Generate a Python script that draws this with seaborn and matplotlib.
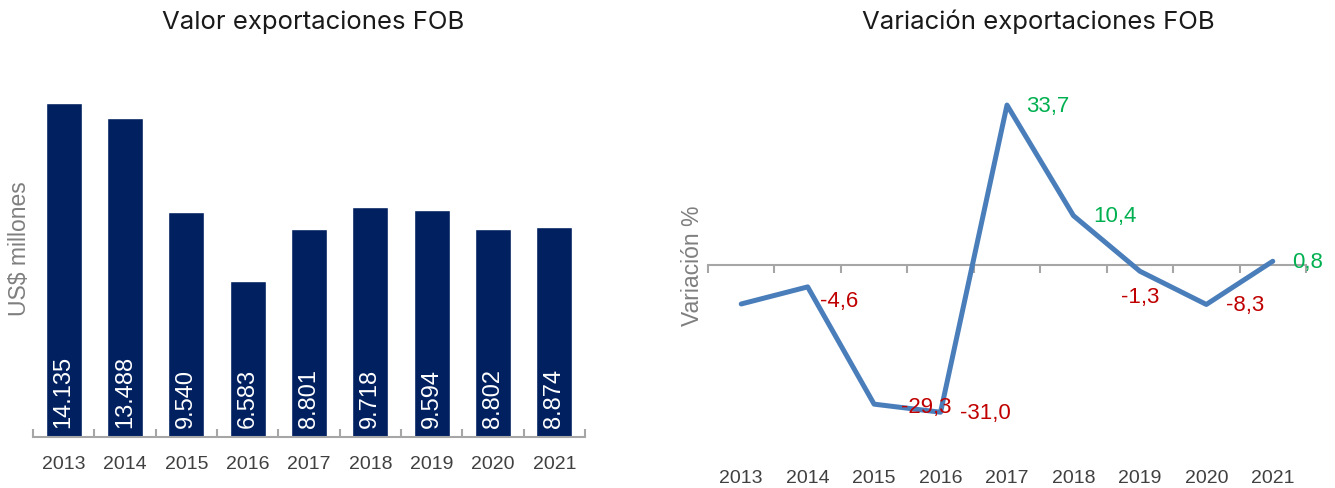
import numpy as np
import matplotlib.pyplot as plt
import seaborn as sns
import pandas as pd

# data
years = ['2013', '2014', '2015', '2016', '2017', '2018', '2019', '2020', '2021']
export_value = [14135, 13488, 9540, 6583, 8801, 9718, 9594, 8802, 8874]
export_change = [-8.2, -4.6, -29.3, -31.0, 33.7, 10.4, -1.3, -8.3, 0.8]
change_labels = [None, '-4,6', '-29,3', '-31,0', '33,7', '10,4', '-1,3', '-8,3', '0,8']


def fmt_thousands(v):
    return '{:,}'.format(v).replace(',', '.')


sns.set_theme(style='white')
plt.rcParams['font.family'] = ['Liberation Sans', 'DejaVu Sans']

NAVY = '#002060'
LINE = '#4a7ebb'
GREEN = '#00b050'
RED = '#c00000'
GRID = '#a6a6a6'
TICK = '#404040'

fig = plt.figure(figsize=(13.35, 4.89), dpi=100)
W, H = 1335, 489

# ---- left: bar chart ----
ax1 = fig.add_axes([33 / W, 1 - 438 / H, 552 / W, 378 / H])
df_bar = pd.DataFrame({'Year': years, 'Value': export_value})
sns.barplot(data=df_bar, x='Year', y='Value', ax=ax1, color=NAVY,
            width=0.585, saturation=1)
ax1.set_xlim(-0.5, len(years) - 0.5)
ax1.set_ylim(0, 16000)
ax1.set_yticks([])
ax1.set_xlabel('')
ax1.set_ylabel('US$ millones', fontsize=16.5, color='#7f7f7f')
ax1.yaxis.set_label_coords(-0.003, 0.5)
for s in ['top', 'right', 'left']:
    ax1.spines[s].set_visible(False)
ax1.spines['bottom'].set_color(GRID)
ax1.spines['bottom'].set_linewidth(1.5)
ax1.set_xticks(np.arange(-0.5, len(years), 1), minor=True)
ax1.tick_params(axis='x', which='major', length=0, pad=13, labelsize=14, labelcolor=TICK)
ax1.tick_params(axis='x', which='minor', direction='in', length=6, width=1.5, color=GRID, bottom=True)

for p, v in zip(ax1.patches, export_value):
    ax1.annotate(fmt_thousands(v), xy=(p.get_x() + p.get_width() / 2, 0),
                 xytext=(0, 7), textcoords='offset points', rotation=90,
                 ha='center', va='bottom', color='white', fontsize=17)

# ---- right: line chart ----
ymin, ymax = -39.8, 43.4
ax2 = fig.add_axes([708 / W, 1 - 455 / H, 598 / W, 395 / H])
x = np.arange(len(years))
df_line = pd.DataFrame({'x': x, 'Change': export_change})
sns.lineplot(data=df_line, x='x', y='Change', ax=ax2, color=LINE, linewidth=3.6)
ax2.set_xlim(-0.5, len(years) - 0.5)
ax2.set_ylim(ymin, ymax)
ax2.set_yticks([])
ax2.set_xticks(x)
ax2.set_xticklabels(years)
ax2.set_xlabel('')
ax2.set_ylabel('Variación %', fontsize=16.5, color='#7f7f7f')
ax2.yaxis.set_label_coords(-0.006, 0.478)
for s in ['top', 'right', 'left', 'bottom']:
    ax2.spines[s].set_visible(False)
ax2.tick_params(axis='x', length=0, pad=11, labelsize=14, labelcolor=TICK)

zero_axis = ax2.secondary_xaxis(-ymin / (ymax - ymin))
zero_axis.set_xticks(np.arange(-0.5, len(years), 1))
zero_axis.set_xticklabels([])
zero_axis.spines['bottom'].set_color(GRID)
zero_axis.spines['bottom'].set_linewidth(1.5)
zero_axis.tick_params(axis='x', direction='out', length=6, width=1.5, color=GRID)

label_offsets = {1: (9, -10, 'left'), 2: (19, -2, 'left'), 6: (0, -18, 'center')}
for i, (v, lab) in enumerate(zip(export_change, change_labels)):
    if lab is None:
        continue
    dx, dy, ha = label_offsets.get(i, (14, 0, 'left'))
    ax2.annotate(lab, xy=(i, v), xytext=(dx, dy), textcoords='offset points',
                 ha=ha, va='center', fontsize=16, color=GREEN if v > 0 else RED)

# titles
fig.text(313 / W, 1 - 22 / H, 'Valor exportaciones FOB', ha='center', va='center',
         fontsize=18.5, color='#1a1a1a', family=['Inter', 'DejaVu Sans'])
fig.text(1038 / W, 1 - 22 / H, 'Variación exportaciones FOB', ha='center', va='center',
         fontsize=18.5, color='#1a1a1a', family=['Inter', 'DejaVu Sans'])

fig.savefig('out.png', dpi=100)
